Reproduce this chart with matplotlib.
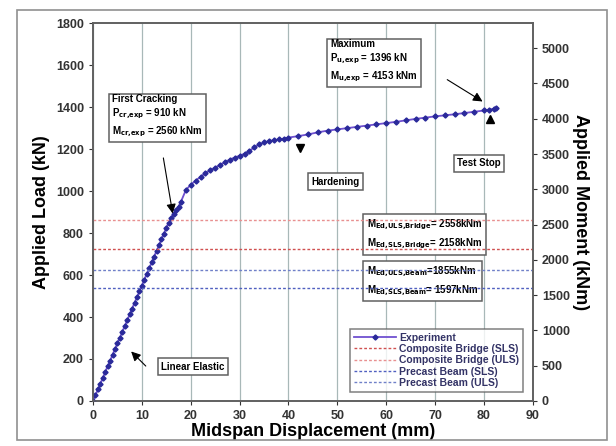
import matplotlib
matplotlib.use("Agg")
import matplotlib.pyplot as plt
from matplotlib.patches import Rectangle

plt.rcParams['font.family'] = ['Liberation Sans', 'DejaVu Sans']
plt.rcParams['font.weight'] = 'bold'
plt.rcParams['mathtext.default'] = 'bf'

# measured load-displacement curve
disp = [0, 0.5, 1, 1.5, 2, 2.5, 3, 3.5, 4, 4.5, 5, 5.5, 6, 6.5, 7, 7.5, 8, 8.5, 9, 9.5,
        10, 10.5, 11, 11.5, 12, 12.5, 13, 13.5, 14, 14.5, 15, 15.5, 16, 16.5, 17, 17.5,
        18, 19, 20, 21, 22, 23, 24, 25, 26, 27, 28, 29, 30, 31, 32, 33, 34, 35, 36, 37,
        38, 39, 40, 42, 44, 46, 48, 50, 52, 54, 56, 58, 60, 62, 64, 66, 68, 70, 72, 74,
        76, 78, 80, 81, 82, 82.5]
load = [0, 27, 55, 82, 110, 138, 166, 192, 220, 248, 276, 302, 330, 357, 385, 412, 440, 468, 495, 522,
        550, 578, 606, 632, 660, 688, 715, 742, 770, 797, 825, 850, 872, 892, 910, 926,
        950, 1005, 1030, 1050, 1068, 1085, 1100, 1112, 1125, 1138, 1150, 1160, 1168, 1178, 1192, 1208, 1222, 1232, 1238, 1242,
        1246, 1250, 1255, 1262, 1270, 1280, 1288, 1294, 1300, 1306, 1312, 1318, 1324, 1330, 1337, 1344, 1350, 1356, 1361, 1366,
        1372, 1378, 1384, 1388, 1392, 1396]

# design moments (kNm)
m_labels = ['Composite Bridge (SLS)', 'Composite Bridge (ULS)', 'Precast Beam (SLS)', 'Precast Beam (ULS)']
m_values = [2158, 2558, 1597, 1855]
m_colors = ['#d05050', '#e89090', '#5060c0', '#7080c8']

ratio = 4153 / 1396  # moment / load

fig = plt.figure(figsize=(6.16, 4.46), dpi=100)
fig.patches.append(Rectangle((0.028, 0.013), 0.958, 0.964, transform=fig.transFigure,
                             fill=False, edgecolor='#909090', lw=1.2))
ax = fig.add_axes([0.151, 0.101, 0.714, 0.847])
ax2 = ax.twinx()

ax.set_xlim(0, 90)
ax.set_ylim(0, 1800)
ax2.set_ylim(0, 1800 * ratio)
ax.set_xticks(range(0, 91, 10))
ax.set_yticks(range(0, 1801, 200))
ax2.set_yticks(range(0, 5001, 500))
ax.grid(axis='x', color='#a8b8b8', lw=0.9)
ax.set_axisbelow(True)

handles = []
for lab, val, col in zip(m_labels, m_values, m_colors):
    h, = ax2.plot([0, 90], [val, val], ls=(0, (2, 1.5)), color=col, lw=1.0, label=lab)
    handles.append(h)

exp, = ax.plot(disp, load, color='#7050d0', lw=1.3, marker='D', ms=2.6,
               mfc='#2a2a9a', mec='#2a2a9a', label='Experiment', zorder=5)

for a in (ax, ax2):
    for s in a.spines.values():
        s.set_color('#606060')
        s.set_linewidth(1.2)
ax.tick_params(labelsize=9, colors='#333333', length=3)
ax2.tick_params(labelsize=9, colors='#333333', length=3)

ax.set_xlabel('Midspan Displacement (mm)', fontsize=13, fontweight='bold', labelpad=1)
ax.set_ylabel('Applied Load (kN)', fontsize=13, fontweight='bold', labelpad=4)
ax2.set_ylabel('Applied Moment (kNm)', fontsize=13, fontweight='bold', rotation=-90, labelpad=14)

box = dict(boxstyle='square,pad=0.35', fc='white', ec='#606060', lw=1.1)
fs = 7
arrow = dict(arrowstyle='-|>', color='black', lw=0.8, mutation_scale=14)

ax.text(3.9, 1462, 'First Cracking\nP$_{cr{,}exp}$ = 910 kN\nM$_{cr{,}exp}$ = 2560 kNm',
        fontsize=fs, va='top', ha='left', bbox=box, zorder=6, linespacing=1.3)
ax.annotate('', xy=(16.4, 880), xytext=(14.3, 1171), arrowprops=arrow, zorder=6)

ax.text(48.5, 1724, 'Maximum\nP$_{u{,}exp}$ = 1396 kN\nM$_{u{,}exp}$ = 4153 kNm',
        fontsize=fs, va='top', ha='left', bbox=box, zorder=6, linespacing=1.3)
ax.annotate('', xy=(80.2, 1420), xytext=(72, 1538), arrowprops=arrow, zorder=6)

ax.text(49.7, 1045, 'Hardening', fontsize=fs, ha='center', va='center', bbox=box, zorder=6)
ax.plot([42.3], [1205], marker='v', color='black', ms=6, zorder=6)

ax.text(79, 1133, 'Test Stop', fontsize=fs, ha='center', va='center', bbox=box, zorder=6)
ax.plot([81.2], [1345], marker='^', color='black', ms=6, zorder=6)

ax.text(20.4, 164, 'Linear Elastic', fontsize=fs, ha='center', va='center', bbox=box, zorder=6)
ax.annotate('', xy=(7.4, 245), xytext=(11.2, 157), arrowprops=arrow, zorder=6)

ax.text(56, 793, 'M$_{Ed{,}ULS{,}Bridge}$= 2558kNm\nM$_{Ed{,}SLS{,}Bridge}$= 2158kNm',
        fontsize=fs, ha='left', va='center', bbox=box, zorder=6, linespacing=1.5)
ax.text(56, 571, 'M$_{Ed{,}ULS{,}Beam}$=1855kNm\nM$_{Ed{,}SLS{,}Beam}$= 1597kNm',
        fontsize=fs, ha='left', va='center', bbox=box, zorder=6, linespacing=1.5)

leg = ax.legend(handles=[exp] + handles, loc='lower right', bbox_to_anchor=(0.99, 0.01),
                fontsize=7.5, frameon=True, fancybox=False, edgecolor='#606060',
                handlelength=4, handletextpad=0.3, labelspacing=0.12, borderpad=0.4)
leg.get_frame().set_linewidth(1.1)
leg.set_zorder(7)
for t in leg.get_texts():
    t.set_color('#333366')

fig.savefig('out.png', dpi=100)
